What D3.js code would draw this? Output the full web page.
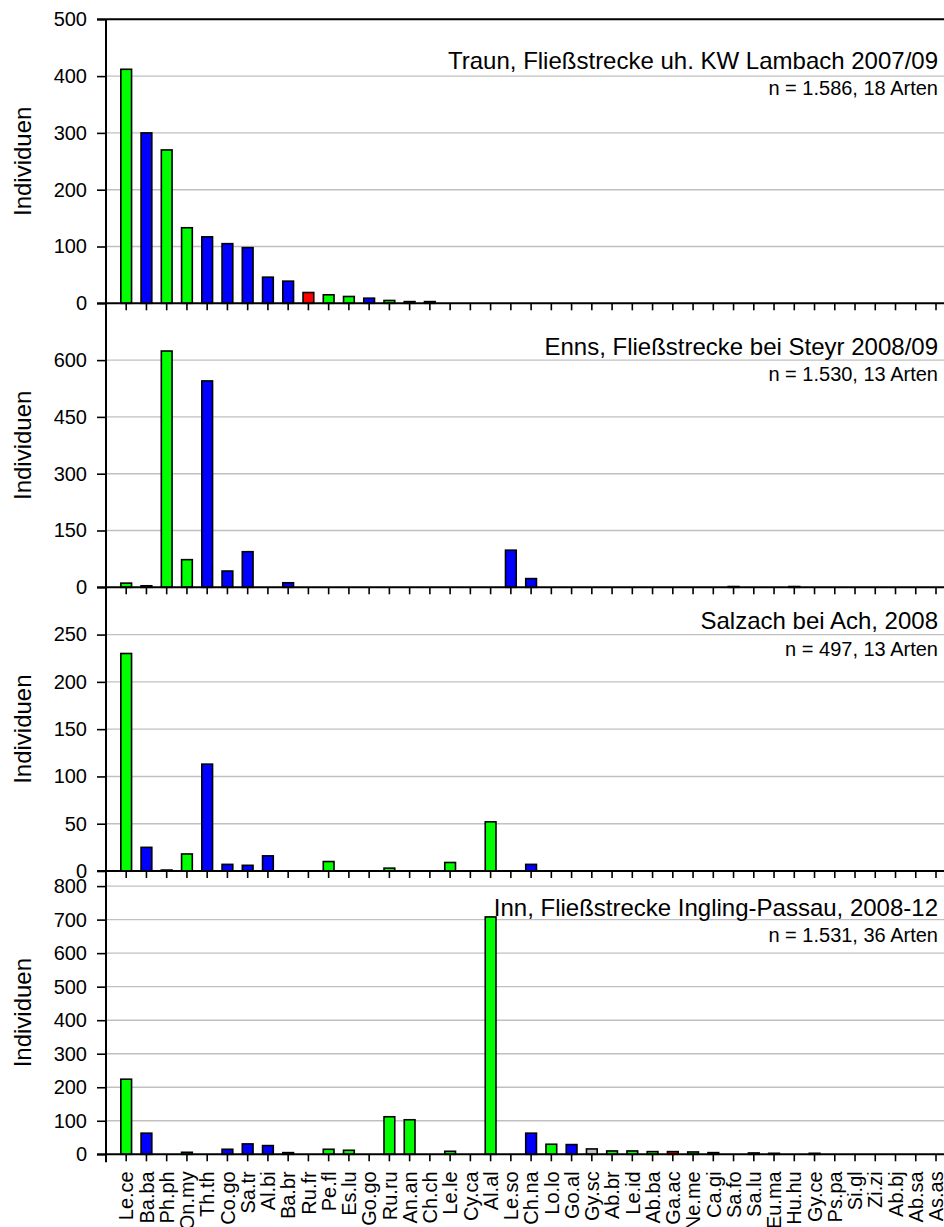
<!DOCTYPE html>
<html><head><meta charset="utf-8">
<script src="https://cdn.jsdelivr.net/npm/d3@7"></script>
<style>html,body{margin:0;padding:0;background:#fff;} svg{display:block;font-family:"Liberation Sans",Arial,sans-serif;}</style>
</head><body><svg id="chart" width="944" height="1227"></svg>
<script>
// ---- data ----
const categories = ["Le.ce","Ba.ba","Ph.ph","On.my","Th.th","Co.go","Sa.tr","Al.bi","Ba.br","Ru.fr","Pe.fl","Es.lu","Go.go","Ru.ru","An.an","Ch.ch","Le.le","Cy.ca","Al.al","Le.so","Ch.na","Lo.lo","Go.al","Gy.sc","Ab.br","Le.id","Ab.ba","Ga.ac","Ne.me","Ca.gi","Sa.fo","Sa.lu","Eu.ma","Hu.hu","Gy.ce","Ps.pa","Si.gl","Zi.zi","Ab.bj","Ab.sa","As.as"];
// colour group per species: G = green, B = blue, R = red, S = grey
const speciesGroup = ["G","B","G","G","B","B","B","B","B","R","G","G","B","G","G","R","G","G","G","B","B","G","B","S","G","G","G","R","G","R","B","G","B","B","S","G","G","G","G","G","G"];
const groupColors = {G:"#00ff00", B:"#0000ff", R:"#ff0000", S:"#c0c0c0"};

const traun   = [412,300,270,133,117,105,98,46,39,19,15,12,9,5,3,3,0,0,0,0,0,0,0,0,0,0,0,0,0,0,0,0,0,0,0,0,0,0,0,0,0];
const enns    = [11,4,624,73,545,43,94,0,12,0,0,0,0,0,0,0,0,0,0,98,23,0,0,0,0,0,0,0,0,0,2,0,0,2,0,0,0,0,0,0,0];
const salzach = [230,25,1,18,113,7,6,16,0,0,10,0,0,3,0,0,9,0,52,0,7,0,0,0,0,0,0,0,0,0,0,0,0,0,0,0,0,0,0,0,0];
const inn     = [224,63,0,6,0,15,31,26,5,0,15,12,0,112,103,0,9,0,708,0,63,30,29,16,10,10,8,8,7,5,0,4,3,0,3,0,0,0,0,0,0];

const titles    = ["Traun, Fließstrecke uh. KW Lambach 2007/09","Enns, Fließstrecke bei Steyr 2008/09","Salzach bei Ach, 2008","Inn, Fließstrecke Ingling-Passau, 2008-12"];
const subtitles = ["n = 1.586, 18 Arten","n = 1.530, 13 Arten","n = 497, 13 Arten","n = 1.531, 36 Arten"];
const yMax      = [500, 750, 300, 845];
const yTicks    = [[0,100,200,300,400,500],[0,150,300,450,600],[0,50,100,150,200,250],[0,100,200,300,400,500,600,700,800]];
const yLabel = "Individuen";

// ---- layout ----
const W = 944;
const axisX = 106;
const panelTop    = [19.3, 303.3, 587.3, 871];
const panelBottom = [303.3, 587.3, 871, 1154.3];
const titleY = [68.5, 354.5, 629, 915.7];
const subGap = 26.6;
const series = [traun, enns, salzach, inn];

const svg = d3.select("#chart");
const step = 20.245;
const x = d3.scaleBand().domain(categories).range([126.2 - step/2, 126.2 - step/2 + step*categories.length]).padding(0);
const barW = step*0.53;

series.forEach((vals, p) => {
  const y = d3.scaleLinear().domain([0, yMax[p]]).range([panelBottom[p], panelTop[p]]);
  const g = svg.append("g");

  // gridlines
  g.selectAll("line.grid").data(yTicks[p].filter(t => t > 0 && y(t) > panelTop[p] + 1))
    .join("line").attr("class","grid")
    .attr("x1", axisX).attr("x2", W).attr("y1", d => y(d)).attr("y2", d => y(d))
    .attr("stroke", "#c0c0c0").attr("stroke-width", 1.4);

  // bars
  const data = categories.map((c,i) => ({c, v: vals[i], col: groupColors[speciesGroup[i]]})).filter(d => d.v > 0);
  g.selectAll("rect.bar").data(data).join("rect").attr("class","bar")
    .attr("x", d => x(d.c) + (step - barW)/2)
    .attr("width", barW)
    .attr("y", d => y(d.v))
    .attr("height", d => y(0) - y(d.v))
    .attr("fill", d => d.col)
    .attr("stroke", "#000").attr("stroke-width", 1.6);

  // y axis ticks + labels
  const ya = d3.axisLeft(y).tickValues(yTicks[p]).tickSize(9).tickPadding(10).tickFormat(d3.format("d"));
  const yg = svg.append("g").attr("transform", `translate(${axisX},0)`).call(ya);
  yg.select(".domain").remove();
  yg.selectAll(".tick line").attr("stroke", "#000").attr("stroke-width", 1.6);
  yg.selectAll(".tick text").attr("font-size", 20).attr("fill", "#000").attr("font-family", '"Liberation Sans",Arial,sans-serif');

  // x axis
  const xa = d3.axisBottom(x).tickSize(7).tickSizeOuter(0);
  const xg = svg.append("g").attr("transform", `translate(0,${panelBottom[p]})`).call(xa);
  xg.select(".domain").remove();
  xg.selectAll(".tick line").attr("stroke", "#000").attr("stroke-width", 1.6);
  if (p < 3) {
    xg.selectAll(".tick text").remove();
  } else {
    xg.selectAll(".tick text")
      .attr("font-size", 20).attr("fill", "#000").attr("font-family", '"Liberation Sans",Arial,sans-serif')
      .attr("text-anchor", "end")
      .attr("transform", "translate(0,17) rotate(-90)")
      .attr("x", 0).attr("y", 0).attr("dy", "0.36em");
  }
  svg.append("line").attr("x1", axisX - 9).attr("x2", W).attr("y1", panelBottom[p]).attr("y2", panelBottom[p])
    .attr("stroke", "#000").attr("stroke-width", 2);

  // y label
  svg.append("text").attr("transform", `translate(31,${(panelTop[p]+panelBottom[p])/2}) rotate(-90)`)
    .attr("text-anchor","middle").attr("font-size", 24).attr("fill","#000").text(yLabel);

  // titles
  svg.append("text").attr("x", 938).attr("y", titleY[p]).attr("text-anchor","end")
    .attr("font-size", 24).attr("fill","#000").text(titles[p]);
  svg.append("text").attr("x", 938).attr("y", titleY[p] + subGap).attr("text-anchor","end")
    .attr("font-size", 20).attr("fill","#000").text(subtitles[p]);
});

// top border and continuous y axis
svg.append("line").attr("x1", axisX - 9).attr("x2", W).attr("y1", panelTop[0]).attr("y2", panelTop[0])
  .attr("stroke", "#000").attr("stroke-width", 2);
svg.append("line").attr("x1", axisX).attr("x2", axisX).attr("y1", panelTop[0]).attr("y2", panelBottom[3] + 8)
  .attr("stroke", "#000").attr("stroke-width", 2);
</script></body></html>
